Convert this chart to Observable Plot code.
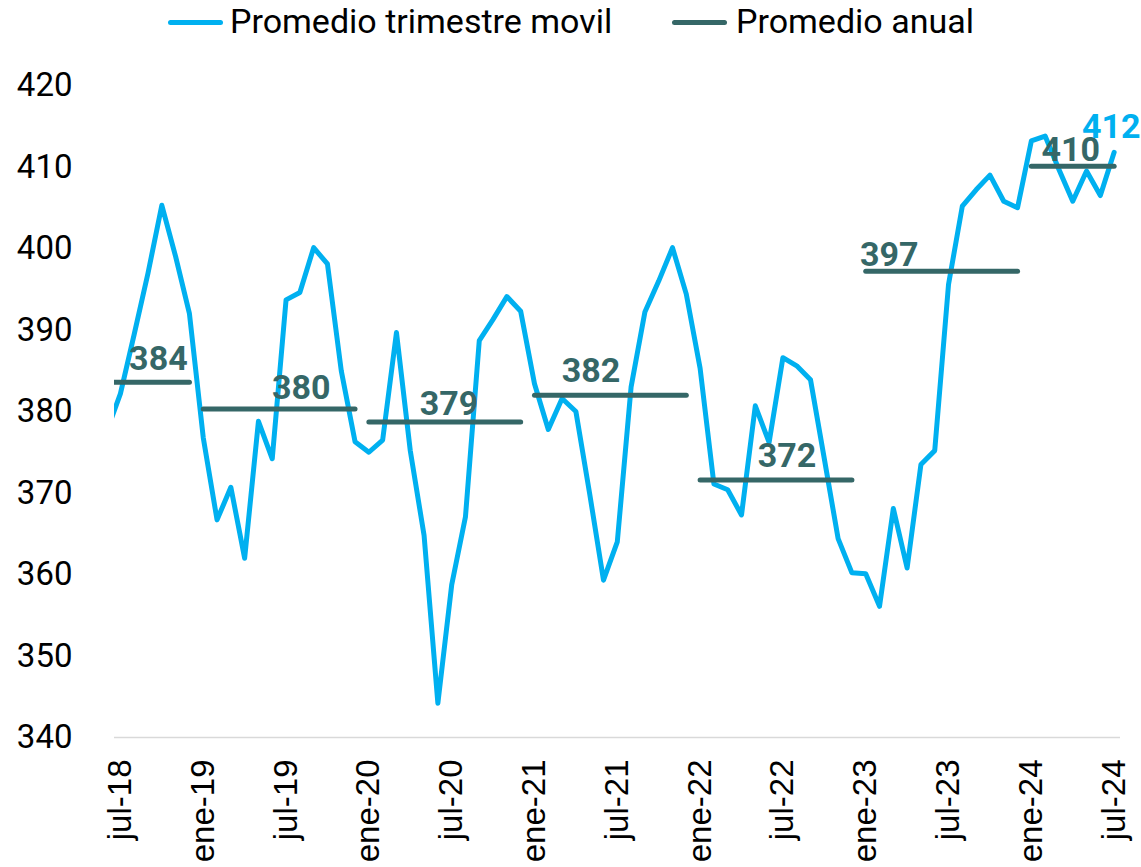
<!DOCTYPE html>
<html>
<head>
<meta charset="utf-8">
<script src="https://cdn.jsdelivr.net/npm/d3@7"></script>
<script src="https://cdn.jsdelivr.net/npm/@observablehq/plot@0.6"></script>
<style>
  html, body { margin: 0; padding: 0; background: #fff; }
  #wrap { position: relative; width: 1141px; height: 867px; overflow: hidden; }
  #legend { position: relative; width: 1141px; height: 45px; font-family: Roboto, sans-serif; font-size: 34px; color: #000; }
  .sw { position: absolute; top: 20px; height: 5px; width: 55px; border-radius: 3px; }
  .lt { position: absolute; top: 4px; line-height: 34px; white-space: nowrap; }
  #chart svg { display: block; }
</style>
</head>
<body>
<div id="wrap">
  <div id="legend"></div>
  <div id="chart"></div>
</div>
<script>
// ---- data ----
// monthly series starting jun-18 (index -1) through jul-24 (index 72)
const trimestre = [377.5, 382.2, 389.5, 397.0, 405.3, 399.0, 392.0, 376.8, 366.7, 370.7,
  362.0, 378.8, 374.2, 393.7, 394.6, 400.1, 398.1, 385.0, 376.3, 375.0,
  376.5, 389.7, 375.2, 364.8, 344.2, 358.7, 367.1, 388.7, 391.3, 394.1,
  392.3, 383.4, 377.8, 381.6, 380.0, 369.9, 359.3, 364.0, 383.0, 392.2,
  396.0, 400.1, 394.4, 385.3, 371.1, 370.4, 367.3, 380.7, 376.2, 386.6,
  385.6, 383.9, 374.2, 364.4, 360.2, 360.1, 356.1, 368.1, 360.8, 373.5,
  375.2, 395.6, 405.2, 407.2, 409.0, 405.8, 405.0, 413.2, 413.8, 409.7,
  405.8, 409.5, 406.5, 411.8];
const years = [2018, 2019, 2020, 2021, 2022, 2023, 2024];
const anual = [383.6, 380.3, 378.7, 382.0, 371.6, 397.2, 410.1];
const tickLabels = ["jul-18","ene-19","jul-19","ene-20","jul-20","ene-21","jul-21","ene-22","jul-22","ene-23","jul-23","ene-24","jul-24"];
const yTicks = [340, 350, 360, 370, 380, 390, 400, 410, 420];
const seriesNames = ["Promedio trimestre movil", "Promedio anual"];

// ---- styles ----
const BLUE = "#00B0F0";
const TEAL = "#356767";

// legend
const legend = document.getElementById("legend");
const legendPos = [[168, 230], [672, 736]];
[BLUE, TEAL].forEach((c, i) => {
  const sw = document.createElement("div");
  sw.className = "sw"; sw.style.left = legendPos[i][0] + "px"; sw.style.background = c;
  legend.appendChild(sw);
  const t = document.createElement("span");
  t.className = "lt"; t.style.left = legendPos[i][1] + "px"; t.textContent = seriesNames[i];
  legend.appendChild(t);
});

// table
const rows = trimestre.map((v, i) => {
  const k = i - 1;
  const year = 2018 + Math.floor((k + 6) / 12);
  return {k, v, year, a: anual[years.indexOf(year)]};
});
const tickIdx = tickLabels.map((_, i) => i * 6);

const fmt = d3.format(".0f");
const labelK = [2.75, 13.1, 23.8, 34.1, 48.3, 55.7, 68.85];
const labelDy = [-11.7, -10, -6.7, -13.3, -12.7, -5, -5];
const annualLabels = years.map((y, i) => ({k: labelK[i], a: anual[i], t: fmt(anual[i])}));
const last = rows[rows.length - 1];

const chart = Plot.plot({
  width: 1141,
  height: 822,
  marginTop: 40,
  marginBottom: 130,
  marginLeft: 114,
  marginRight: 21,
  style: {fontFamily: "Roboto, sans-serif", fontSize: "33px", color: "#000", background: "#fff", overflow: "visible"},
  x: {type: "linear", domain: [-0.43, 72.46]},
  y: {domain: [340, 420]},
  marks: [
    Plot.ruleY([340], {stroke: "#d9d9d9", strokeWidth: 1.6}),
    Plot.axisY({ticks: yTicks, tickSize: 0, tickPadding: 42, tickFormat: d => d, label: null, fontSize: 33, fontFamily: "Roboto, sans-serif"}),
    Plot.axisX({ticks: tickIdx, tickFormat: (d) => tickLabels[tickIdx.indexOf(d)], tickRotate: -90, tickSize: 0, tickPadding: 22, label: null,
      fontSize: 33, fontFamily: "'Liberation Sans', Arial, sans-serif"}),
    Plot.lineY(rows, {x: "k", y: "v", stroke: BLUE, strokeWidth: 5, strokeLinejoin: "round", strokeLinecap: "round", clip: true}),
    Plot.lineY(rows, {x: "k", y: "a", z: "year", stroke: TEAL, strokeWidth: 5, strokeLinecap: "round", clip: true}),
    ...annualLabels.map((d, i) => Plot.text([d], {x: "k", y: "a", text: "t", dy: labelDy[i], lineAnchor: "bottom", textAnchor: "middle",
      fill: TEAL, fontWeight: "bold", fontSize: 34, fontFamily: "Roboto, sans-serif"})),
    Plot.text([last], {x: "k", y: "v", text: d => fmt(d.v), dx: -3, dy: -14.3, lineAnchor: "bottom", textAnchor: "middle",
      fill: BLUE, fontWeight: "bold", fontSize: 34, fontFamily: "Roboto, sans-serif"})
  ]
});
document.getElementById("chart").appendChild(chart);
</script>
</body>
</html>
